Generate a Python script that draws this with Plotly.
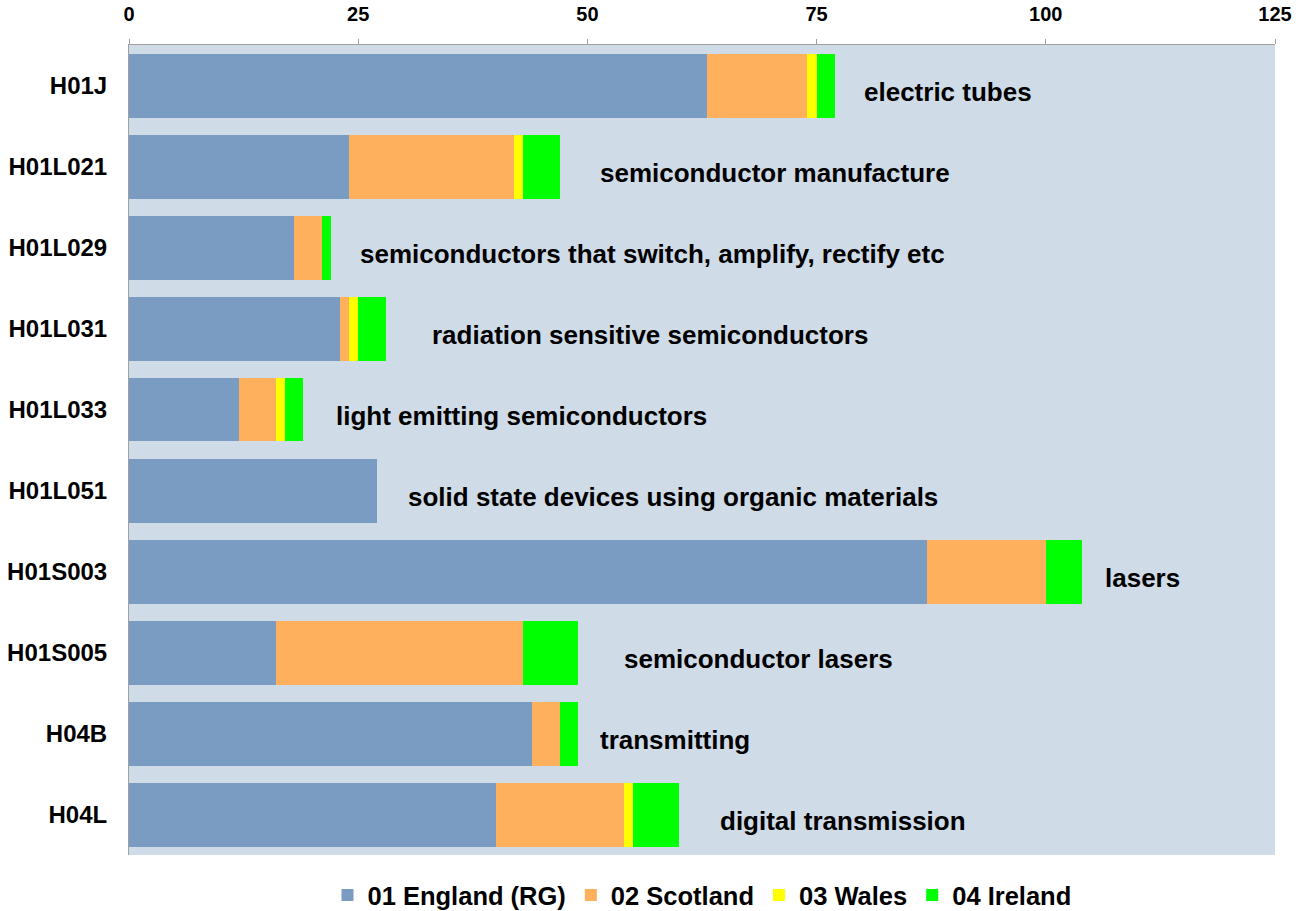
import plotly.graph_objects as go

categories = ["H01J", "H01L021", "H01L029", "H01L031", "H01L033",
              "H01L051", "H01S003", "H01S005", "H04B", "H04L"]
descriptions = ["electric tubes", "semiconductor manufacture",
                "semiconductors that switch, amplify, rectify etc",
                "radiation sensitive semiconductors", "light emitting semiconductors",
                "solid state devices using organic materials", "lasers",
                "semiconductor lasers", "transmitting", "digital transmission"]

england = [63, 24, 18, 23, 12, 27, 87, 16, 44, 40]
scotland = [11, 18, 3, 1, 4, 0, 13, 27, 3, 14]
wales = [1, 1, 0, 1, 1, 0, 0, 0, 0, 1]
ireland = [2, 4, 1, 3, 2, 0, 4, 6, 2, 5]

# where each description label starts (x axis units)
label_x = [80, 51.2, 25, 32.8, 22.4, 30.2, 106.2, 53.8, 51.2, 64.2]

series = [
    ("01 England (RG)", england, "#7A9CC2"),
    ("02 Scotland", scotland, "#FFB05C"),
    ("03 Wales", wales, "#FFFF00"),
    ("04 Ireland", ireland, "#00FF00"),
]

FONT = "Liberation Sans, Arial, sans-serif"

fig = go.Figure()
for name, vals, color in series:
    fig.add_trace(go.Bar(
        name=name, y=categories, x=vals, orientation="h",
        marker=dict(color=color, line=dict(width=0)),
    ))

for cat, desc, lx in zip(categories, descriptions, label_x):
    fig.add_annotation(
        x=lx, y=cat, text=desc, showarrow=False, xanchor="left",
        yshift=-6, font=dict(family=FONT, size=26, color="black", weight="bold"),
    )

fig.update_layout(
    barmode="stack",
    bargap=0.21,
    width=1298, height=911,
    margin=dict(l=129, r=23, t=45, b=56),
    paper_bgcolor="white",
    plot_bgcolor="#CFDBE6",
    font=dict(family=FONT, color="black"),
    legend=dict(
        orientation="h", x=0.5, xanchor="center",
        yref="container", y=0.017, yanchor="middle",
        font=dict(family=FONT, size=25.5, weight="bold"), traceorder="normal",
        itemwidth=30,
    ),
    xaxis=dict(
        side="top", range=[0, 125], tickvals=[0, 25, 50, 75, 100, 125],
        showgrid=False, zeroline=False, showline=True, linecolor="#A0A0A0",
        ticks="outside", ticklen=5, tickcolor="#A0A0A0", automargin=False,
        ticklabelstandoff=10,
        tickfont=dict(family=FONT, size=20, weight="bold"),
    ),
    yaxis=dict(
        autorange="reversed", showgrid=False, showline=True, linecolor="#A0A0A0",
        ticks="", ticklabelstandoff=16, automargin=False,
        tickfont=dict(family=FONT, size=24, weight="bold"),
    ),
)

# drop the default body margin so the figure sits flush in the window
fig.write_html("out.html", config={"displayModeBar": False},
               post_script="document.body.style.margin='0';")
